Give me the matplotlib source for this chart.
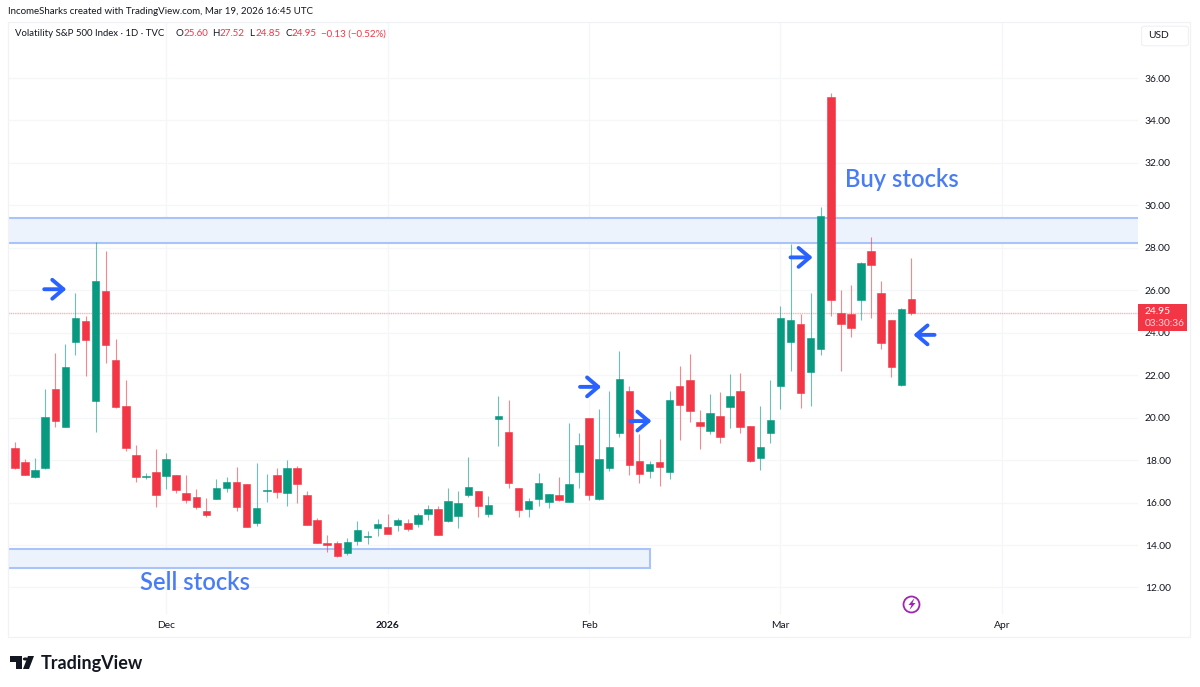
import matplotlib

matplotlib.use("Agg")
import matplotlib.pyplot as plt
import numpy as np
from matplotlib.patches import Circle, FancyBboxPatch, Polygon, Rectangle

W, H = 1200, 687
FONT = "Lato"
TEXT = "#131722"
RED = "#f23645"
GREEN = "#089981"
ZONE_FILL = "#edf3fd"
ZONE_EDGE = "#a9c4fb"
NOTE_BLUE = "#4a7df5"
ARROW_BLUE = "#2962ff"
PURPLE = "#9c27b0"

opens = [
    18.59, 17.91, 17.22, 17.61, 21.33, 19.57, 23.55, 24.54, 20.78, 25.98,
    22.72, 20.55, 18.26, 17.22, 17.42, 17.25, 17.30, 16.43, 16.25, 15.59,
    16.15, 16.69, 16.95, 16.86, 15.02, 16.53, 17.30, 16.47, 17.63, 16.34,
    15.18, 14.11, 14.11, 13.64, 14.21, 14.36, 14.79, 14.87, 14.93, 15.02,
    14.98, 15.48, 15.70, 15.12, 15.39, 16.34, 16.53, 15.46, 19.95, 19.33,
    16.67, 15.70, 16.17, 16.04, 16.37, 16.04, 17.44, 19.97, 16.17, 17.65,
    19.26, 21.27, 17.98, 17.51, 17.90, 17.46, 21.49, 21.76, 19.80, 19.36,
    20.06, 20.52, 21.26, 19.61, 18.10, 19.30, 21.47, 23.57, 24.42, 22.13,
    23.22, 35.12, 24.95, 24.90, 25.52, 27.85, 25.89, 24.59, 21.52, 25.60,
]
highs = [
    18.84, 18.04, 18.08, 21.33, 23.03, 23.47, 25.85, 24.79, 28.27, 27.85,
    23.69, 21.79, 18.71, 17.38, 18.52, 18.35, 17.30, 17.30, 16.64, 16.20,
    17.09, 17.22, 17.68, 16.88, 17.85, 17.36, 17.61, 18.02, 17.71, 16.55,
    15.26, 14.47, 14.18, 14.32, 15.12, 14.65, 15.21, 15.46, 15.29, 15.23,
    15.53, 15.87, 15.82, 16.69, 16.53, 18.13, 16.55, 16.31, 21.02, 20.83,
    16.69, 16.22, 17.41, 16.39, 17.19, 19.76, 19.28, 19.97, 20.39, 21.26,
    23.13, 21.51, 19.23, 17.98, 19.00, 21.24, 22.42, 22.98, 20.36, 21.13,
    21.23, 22.06, 22.11, 19.63, 20.57, 21.78, 25.25, 28.19, 24.87, 25.86,
    29.94, 35.31, 26.02, 26.25, 27.33, 28.49, 26.44, 24.60, 25.15, 27.52,
]
lows = [
    17.59, 17.30, 17.14, 17.56, 19.57, 19.57, 22.93, 21.96, 19.31, 22.56,
    20.47, 18.44, 16.95, 17.09, 15.81, 16.62, 16.43, 15.96, 15.71, 15.32,
    16.15, 16.50, 15.60, 14.87, 14.90, 16.04, 16.23, 15.85, 15.96, 14.93,
    14.08, 13.69, 13.42, 13.55, 14.02, 14.06, 14.41, 14.50, 14.68, 14.66,
    14.87, 15.18, 14.47, 15.10, 14.79, 16.25, 15.32, 15.34, 18.68, 16.70,
    15.31, 15.34, 15.84, 15.76, 16.09, 16.04, 16.69, 16.12, 16.10, 17.51,
    19.09, 17.30, 16.94, 17.18, 16.78, 17.11, 18.95, 19.80, 18.53, 19.25,
    18.79, 19.53, 19.26, 17.90, 17.54, 18.79, 20.41, 22.22, 20.45, 20.57,
    22.94, 24.79, 22.22, 23.79, 24.62, 24.71, 23.25, 21.90, 21.50, 24.85,
]
closes = [
    17.61, 17.32, 17.52, 20.01, 19.84, 22.40, 24.69, 23.66, 26.42, 23.42,
    20.52, 18.55, 17.19, 17.27, 16.36, 18.07, 16.59, 16.12, 15.81, 15.41,
    16.69, 16.95, 15.78, 14.87, 15.74, 16.58, 16.50, 17.64, 16.89, 14.93,
    14.08, 14.02, 13.47, 14.15, 14.71, 14.44, 14.98, 14.54, 15.18, 14.76,
    15.42, 15.71, 14.49, 16.09, 16.00, 16.75, 15.84, 15.90, 20.09, 16.91,
    15.65, 16.09, 16.94, 16.39, 16.12, 16.89, 18.73, 16.36, 18.04, 18.64,
    21.81, 17.79, 17.36, 17.82, 17.66, 20.82, 20.61, 20.32, 19.63, 20.24,
    19.09, 21.04, 19.58, 17.96, 18.64, 19.88, 24.68, 24.59, 21.15, 23.77,
    29.50, 25.53, 24.42, 24.24, 27.29, 27.19, 23.53, 22.40, 25.10, 24.95,
]

price_ticks = list(range(12, 37, 2))
date_ticks = [15, 37, 57, 76, 98]
date_labels = ["Dec", "2026", "Feb", "Mar", "Apr"]
last_price = 24.95
countdown = "03:30:36"
buy_zone = (28.23, 29.41)
sell_zone = (12.92, 13.81)
sell_zone_end = 63
# start bar, end bar, price
arrows = [
    (2.9, 5.1, 26.05),
    (56.1, 58.2, 21.45),
    (61.1, 63.2, 19.84),
    (77.0, 79.2, 27.55),
    (91.3, 89.2, 23.9),
]

plt.rcParams["font.family"] = [FONT, "DejaVu Sans"]
fig = plt.figure(figsize=(W / 100, H / 100), dpi=100, facecolor="white")


def fx(x):
    return x / W


def fy(y):
    return 1 - y / H


# pane spans x 8-1138, y 22-614 in pixels
ax = fig.add_axes([fx(8), fy(614), fx(1130), 592 / H])
ax.set_xlim(-0.695, 111.5)
ax.set_ylim(10.75, 38.64)
for spine in ax.spines.values():
    spine.set_visible(False)

ax.set_axisbelow(True)
ax.grid(True, color="#f5f6f8", lw=0.9)
ax.set_yticks(price_ticks)
ax.set_yticklabels([f"{p:.2f}" for p in price_ticks], fontsize=7.4, color=TEXT)
ax.yaxis.tick_right()
ax.set_xticks(date_ticks)
ax.set_xticklabels(date_labels, fontsize=7.4, color=TEXT)
ax.get_xticklabels()[1].set_fontweight("bold")
ax.tick_params(axis="both", length=0)
ax.tick_params(axis="y", pad=5)
ax.tick_params(axis="x", pad=5)

# zones
ax.axhspan(buy_zone[0], buy_zone[1], color=ZONE_FILL, lw=0, zorder=1)
for level in buy_zone:
    ax.axhline(level, color=ZONE_EDGE, lw=1.5, zorder=1.2)
ax.add_patch(
    Rectangle(
        (-0.695, sell_zone[0]),
        sell_zone_end + 0.695,
        sell_zone[1] - sell_zone[0],
        facecolor=ZONE_FILL,
        edgecolor=ZONE_EDGE,
        lw=1.5,
        zorder=1.2,
    )
)

# candles
o = np.array(opens)
c = np.array(closes)
bars = np.arange(len(o))
colors = np.where(c >= o, GREEN, RED)
ax.vlines(bars, lows, highs, colors=colors, lw=0.8, alpha=0.6, zorder=2)
ax.bar(
    bars,
    np.abs(c - o),
    bottom=np.minimum(o, c),
    width=0.74,
    color=colors,
    edgecolor=colors,
    lw=0.4,
    zorder=3,
)

ax.axhline(last_price, color="#f9b4ba", lw=1.0, ls=(0, (1, 0.6)), zorder=1.5)

for start, end, price in arrows:
    ax.annotate(
        "",
        xy=(end, price),
        xytext=(start, price),
        arrowprops=dict(
            arrowstyle="->,head_length=8.0,head_width=6.8",
            mutation_scale=1,
            color=ARROW_BLUE,
            lw=2.8,
            shrinkA=0,
            shrinkB=0,
        ),
        zorder=4,
    )

ax.text(82.4, 31.24, "Buy stocks", fontsize=17, color=NOTE_BLUE, va="center", zorder=5, fontweight="semibold")
ax.text(12.4, 12.24, "Sell stocks", fontsize=17, color=NOTE_BLUE, va="center", zorder=5, fontweight="semibold")

# session break marker
ax.plot([89], [11.22], "o", ms=11.5, mfc="white", mec=PURPLE, mew=1.3, zorder=5, clip_on=False)
bolt = [(914.5, 598), (908.5, 605), (911.5, 605), (909.5, 610), (915.5, 603), (912.5, 603)]
fig.add_artist(
    Polygon([(fx(x), fy(y)) for x, y in bolt], closed=True, transform=fig.transFigure, facecolor=PURPLE, edgecolor="none", zorder=5)
)

# outer frame
fig.add_artist(
    Rectangle((fx(8), fy(637)), fx(1182), 615 / H, transform=fig.transFigure, fill=False, edgecolor="#f0f2f6", lw=0.9)
)

# header texts
fig.text(fx(8), fy(12), "IncomeSharks created with TradingView.com, Mar 19, 2026 16:45 UTC", fontsize=7.05, color=TEXT, va="center")
fig.text(fx(15), fy(34), "Volatility S&P 500 Index \u00b7 1D \u00b7 TVC", fontsize=6.95, color=TEXT, va="center")
legend_parts = [
    (175, "O", TEXT), (183, "25.60", RED), (212, "H", TEXT), (220, "27.52", RED),
    (249, "L", TEXT), (255, "24.85", RED), (285, "C", TEXT), (291, "24.95", RED),
    (321, "\u22120.13 (\u22120.52%)", RED),
]
for x0, label, col in legend_parts:
    fig.text(fx(x0), fy(34), label, fontsize=7.0, color=col, va="center")

# currency button
fig.add_artist(
    FancyBboxPatch(
        (fx(1144), fy(45)), fx(42), 18 / H,
        boxstyle="round,pad=0.002,rounding_size=0.004",
        transform=fig.transFigure, facecolor="white", edgecolor="#f0f2f6", lw=0.9, mutation_aspect=H / W,
    )
)
fig.text(fx(1148), fy(36), "USD", fontsize=7.4, color=TEXT, va="center")

# last price label
fig.add_artist(
    Rectangle((fx(1138), fy(331)), fx(49), 27 / H, transform=fig.transFigure, facecolor=RED, edgecolor="none", zorder=5)
)
fig.text(fx(1145), fy(311), f"{last_price:.2f}", fontsize=7.4, color="white", va="center", zorder=6)
fig.text(fx(1145), fy(324), countdown, fontsize=7.3, color="#fcd5d9", va="center", zorder=6)

# logo
logo_parts = [
    [(10, 656), (22, 656), (22, 669), (16, 669), (16, 662), (10, 662)],
    [(34, 656), (29, 669), (23, 669), (28, 656)],
]
for part in logo_parts:
    fig.add_artist(
        Polygon([(fx(x), fy(y)) for x, y in part], closed=True, transform=fig.transFigure, facecolor="#131722", edgecolor="none")
    )
fig.add_artist(
    Circle((fx(25.5), fy(659)), fx(2.7), transform=fig.transFigure, facecolor="#131722", edgecolor="none")
)
fig.text(fx(41), fy(663), "TradingView", fontsize=13, color="#131722", va="center", fontweight="bold")

fig.savefig("out.png", dpi=100)
